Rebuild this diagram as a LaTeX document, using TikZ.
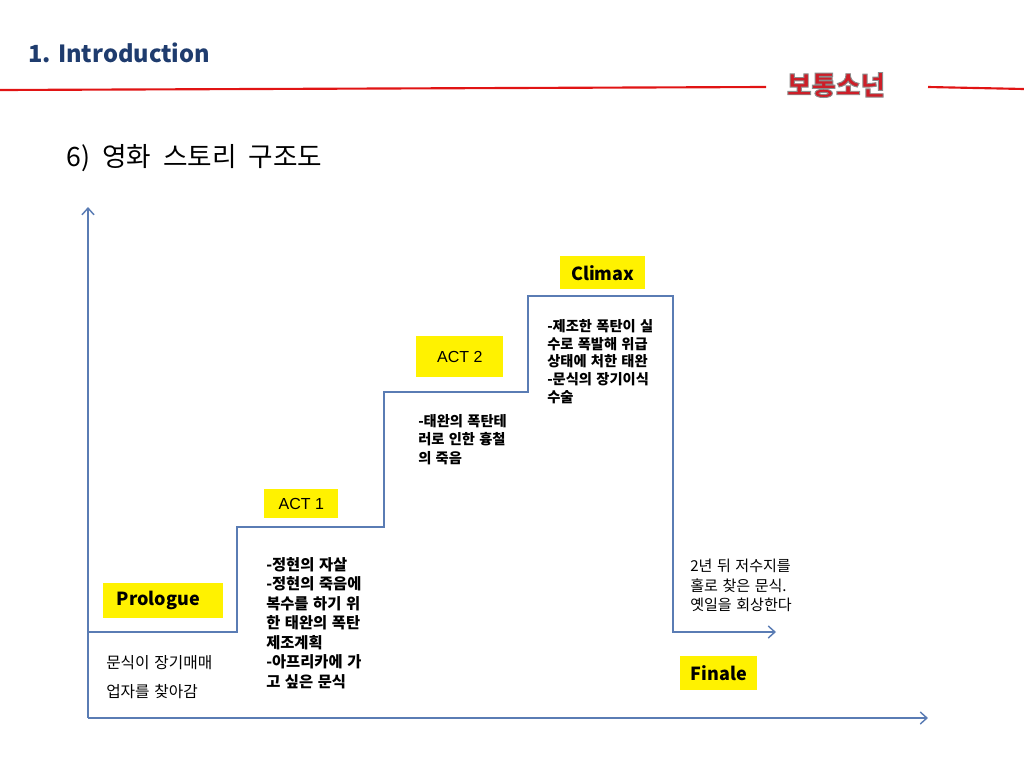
\documentclass[tikz,border=0pt]{standalone}
\usepackage{fontspec}
\usetikzlibrary{arrows.meta}
\newfontfamily\kr{Noto Sans CJK KR}
\newfontfamily\arialf{Liberation Sans}
\newcommand\widesp{\spaceskip=0.3em plus 0.1em\relax\xspaceskip=0.3em\relax}
\newcommand\subsp{\spaceskip=0.45em plus 0.1em\relax}
\definecolor{axisblue}{RGB}{90,124,180}
\definecolor{titleblue}{RGB}{31,60,110}
\definecolor{linered}{RGB}{225,20,20}
\definecolor{logored}{RGB}{205,30,40}
\tikzset{
  axisline/.style={draw=axisblue, line width=1.1pt, -{Straight Barb[length=5pt,width=9pt]}},
  yellowbox/.style={fill=yellow, inner sep=0pt, anchor=north west},
  boldlabel/.style={font=\kr\bfseries\fontsize{13.5pt}{16pt}\selectfont},
  actlabel/.style={font=\arialf\fontsize{12pt}{14pt}\selectfont},
  plotnote/.style={font=\kr\bfseries\fontsize{11.5pt}{14.6pt}\selectfont, anchor=north west, inner sep=0pt, text width=160*0.75pt, align=flush left},
  plainnote/.style={font=\kr\fontsize{11.3pt}{14.6pt}\selectfont, anchor=north west, inner sep=0pt, text width=160*0.75pt, align=flush left},
}
\begin{document}
\begin{tikzpicture}[x=0.75pt,y=-0.75pt]
\useasboundingbox (0,0) rectangle (1024,768);
% header
\node[anchor=west, inner sep=0pt, text=titleblue, font=\kr\bfseries\fontsize{17.7pt}{22pt}\selectfont] (title) at (28,53) {1. Introduction};
\draw[linered, line width=1.6pt] (0,90) -- (766,87);
\draw[linered, line width=1.6pt] (928,87) -- (1024,89);
\node[inner sep=0pt, font=\kr\bfseries\fontsize{20pt}{24pt}\selectfont] (logo) at (836,85) {\textcolor{logored}{\special{pdf:literal direct 2 Tr 0.7 w 0.55 0.55 0.55 RG}보통소넌\special{pdf:literal direct 0 Tr}}};
\node[anchor=west, inner sep=0pt, font=\kr\fontsize{20pt}{24pt}\selectfont\subsp] (subtitle) at (66,158) {6) 영화 스토리 구조도};
% axes
\coordinate (origin) at (88,718);
\coordinate (ytip) at (88,207);
\coordinate (xtip) at (928,718);
\draw[axisline] (origin) -- (ytip);
\draw[axisline] (origin) -- (xtip);
% step line
\coordinate (s0) at (88,632);
\coordinate (s1) at (237,632);
\coordinate (s2) at (237,527);
\coordinate (s3) at (384,527);
\coordinate (s4) at (384,392);
\coordinate (s5) at (528,392);
\coordinate (s6) at (528,296);
\coordinate (s7) at (673,296);
\coordinate (s8) at (673,632);
\coordinate (s9) at (776,632);
\draw[axisline] (s0) -- (s1) -- (s2) -- (s3) -- (s4) -- (s5) -- (s6) -- (s7) -- (s8) -- (s9);
% labels
\node[yellowbox, minimum width=120*0.75pt, minimum height=35*0.75pt] (prologue) at (103,583) {};
\node[boldlabel] at ([xshift=-5*0.75pt]prologue.center) {Prologue};
\node[yellowbox, minimum width=74*0.75pt, minimum height=29*0.75pt] (act1) at (264,489) {};
\node[actlabel] at (act1.center) {ACT 1};
\node[yellowbox, minimum width=87*0.75pt, minimum height=41*0.75pt] (act2) at (416,336) {};
\node[actlabel] at (act2.center) {ACT 2};
\node[yellowbox, minimum width=85*0.75pt, minimum height=33*0.75pt] (climax) at (560,256) {};
\node[boldlabel] at (climax.center) {Climax};
\node[yellowbox, minimum width=77*0.75pt, minimum height=34*0.75pt] (finale) at (680,656) {};
\node[boldlabel] at (finale.center) {Finale};
% notes
\node[plainnote, font=\kr\fontsize{11.8pt}{21.7pt}\selectfont] (prolnote) at (106,655) {\widesp 문식이 장기매매\\업자를 찾아감};
\node[plotnote] (act1note) at (266,557) {\widesp -정현의 자살\\-정현의 죽음에\\복수를 하기 위\\한 태완의 폭탄\\제조계획\\-아프리카에 가\\고 싶은 문식};
\node[plotnote, font=\kr\bfseries\fontsize{10.7pt}{13.9pt}\selectfont] (act2note) at (418,414) {\widesp -태완의 폭탄테\\러로 인한 흉철\\의 죽음};
\node[plotnote, font=\kr\bfseries\fontsize{10.7pt}{13.35pt}\selectfont] (climaxnote) at (547,319) {\widesp -제조한 폭탄이 실\\수로 폭발해 위급\\상태에 처한 태완\\-문식의 장기이식\\수술};
\node[plainnote] (finalenote) at (690,559) {\widesp 2년 뒤 저수지를\\홀로 찾은 문식.\\옛일을 회상한다};
\end{tikzpicture}
\end{document}
